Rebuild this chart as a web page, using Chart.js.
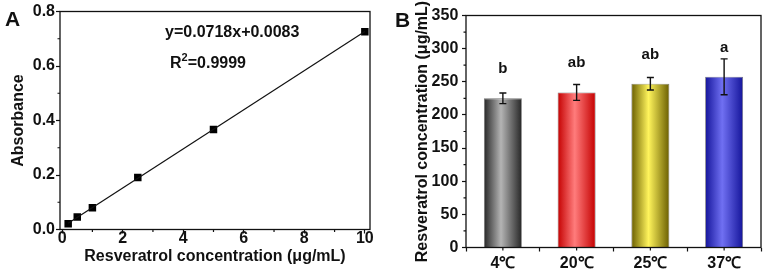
<!DOCTYPE html>
<html>
<head>
<meta charset="utf-8">
<script src="https://cdn.jsdelivr.net/npm/chart.js@4.4.0/dist/chart.umd.min.js"></script>
<style>
  html, body { margin: 0; padding: 0; background: #fff; }
  #wrap { position: relative; width: 776px; height: 272px; overflow: hidden; }
  .panel { position: absolute; top: 0; width: 388px; height: 272px; }
  #pa { left: 0; }
  #pb { left: 388px; }
</style>
</head>
<body>
<div id="wrap">
  <div class="panel" id="pa"><canvas id="chartA" width="388" height="272"></canvas></div>
  <div class="panel" id="pb"><canvas id="chartB" width="388" height="272"></canvas></div>
</div>
<script>
// panel A - standard curve
const concX = [0.2, 0.5, 1, 2.5, 5, 10];
const absY = [0.021, 0.046, 0.080, 0.191, 0.367, 0.726];
const fitX = [0.2, 10];
const fitY = [0.0227, 0.7263];
const xTicksA = [0, 2, 4, 6, 8, 10];
const xMinorA = [1, 3, 5, 7, 9];
const yTicksA = [0, 0.2, 0.4, 0.6, 0.8];
const yMinorA = [0.1, 0.3, 0.5, 0.7];
const fitText = "y=0.0718x+0.0083";
const r2Value = "=0.9999";

// panel B - temperature
const temps = ["4℃", "20℃", "25℃", "37℃"];
const resv = [225, 234, 247, 257.5];
const resvErr = [8, 12, 9.5, 27];
const sigLetters = ["b", "ab", "ab", "a"];
const yTicksB = [0, 50, 100, 150, 200, 250, 300, 350];
const yMinorB = [25, 75, 125, 175, 225, 275, 325];

const INK = "#111";
const barShades = [
  ["#262626", "#b4b4b4"],
  ["#c40000", "#ff7c7c"],
  ["#6a5e00", "#fff45c"],
  ["#14149a", "#7070f2"]
];

Chart.defaults.font.family = "'Liberation Sans', Arial, sans-serif";
Chart.defaults.font.size = 16;
Chart.defaults.font.weight = "bold";
Chart.defaults.color = INK;

function tickLines(ctx, scale, values, len, horizontal) {
  ctx.save();
  ctx.strokeStyle = INK;
  ctx.lineWidth = 1.2;
  ctx.beginPath();
  values.forEach(v => {
    const p = scale.getPixelForValue(v);
    if (horizontal) {
      ctx.moveTo(p, scale.top);
      ctx.lineTo(p, scale.top + len);
    } else {
      ctx.moveTo(scale.right, p);
      ctx.lineTo(scale.right - len, p);
    }
  });
  ctx.stroke();
  ctx.restore();
}

function frame(chart) {
  const { ctx, chartArea: a } = chart;
  ctx.save();
  ctx.strokeStyle = INK;
  ctx.lineWidth = 1.3;
  ctx.strokeRect(a.left, a.top, a.right - a.left, a.bottom - a.top);
  ctx.restore();
}

const gridOpts = { display: true, drawOnChartArea: false, drawTicks: true, tickLength: 4, color: INK, tickWidth: 1.2 };

// ---------- chart A ----------
new Chart(document.getElementById("chartA"), {
  type: "scatter",
  data: {
    datasets: [
      {
        data: fitX.map((x, i) => ({ x, y: fitY[i] })),
        showLine: true, pointRadius: 0, borderColor: INK, borderWidth: 1.2
      },
      {
        data: concX.map((x, i) => ({ x, y: absY[i] })),
        pointStyle: "rect", pointRadius: 5.3, backgroundColor: "#000", borderWidth: 0
      }
    ]
  },
  options: {
    responsive: false,
    animation: false,
    devicePixelRatio: 1,
    layout: { padding: { left: 0, top: 11.5, right: 18, bottom: 0 } },
    plugins: { legend: { display: false }, tooltip: { enabled: false } },
    scales: {
      x: {
        type: "linear", min: -0.07, max: 10.17,
        afterBuildTicks: s => { s.ticks = xTicksA.map(v => ({ value: v })); },
        afterFit: s => { s.height = 42.5; },
        grid: gridOpts,
        border: { display: false },
        ticks: { padding: -5, maxRotation: 0, callback: v => String(v) },
        title: { display: true, text: "Resveratrol concentration (μg/mL)", padding: { top: 0, bottom: 5.4 } }
      },
      y: {
        min: 0, max: 0.8,
        afterBuildTicks: s => { s.ticks = yTicksA.map(v => ({ value: v })); },
        afterFit: s => { s.width = 60; },
        grid: gridOpts,
        border: { display: false },
        ticks: { padding: 1, callback: v => v.toFixed(1) },
        title: { display: true, text: "Absorbance", padding: { top: 8.9, bottom: 0 } }
      }
    }
  },
  plugins: [{
    id: "decorA",
    afterDraw(chart) {
      const { ctx, scales: { x, y } } = chart;
      frame(chart);
      tickLines(ctx, x, xMinorA, 2.5, true);
      tickLines(ctx, y, yMinorA, 2.5, false);
      ctx.save();
      ctx.fillStyle = INK;
      ctx.textBaseline = "alphabetic";
      ctx.textAlign = "left";
      ctx.font = "bold 16px 'Liberation Sans', Arial, sans-serif";
      const tx = x.getPixelForValue(3.4);
      const ty = y.getPixelForValue(0.706);
      ctx.fillText(fitText, tx, ty);
      const rx = tx + 5, ry = ty + 31;
      ctx.fillText("R", rx, ry);
      const rw = ctx.measureText("R").width;
      ctx.font = "bold 11px 'Liberation Sans', Arial, sans-serif";
      ctx.fillText("2", rx + rw, ry - 7);
      const sw = ctx.measureText("2").width;
      ctx.font = "bold 16px 'Liberation Sans', Arial, sans-serif";
      ctx.fillText(r2Value, rx + rw + sw, ry);
      ctx.font = "bold 21px 'Liberation Sans', Arial, sans-serif";
      ctx.fillText("A", 5, 26);
      ctx.restore();
    }
  }]
});

// ---------- chart B ----------
new Chart(document.getElementById("chartB"), {
  type: "bar",
  data: {
    labels: temps,
    datasets: [{
      data: resv,
      backgroundColor: "#888",
      borderColor: "rgba(0,0,0,0.55)",
      borderWidth: 0.8,
      categoryPercentage: 1,
      barPercentage: 0.515
    }]
  },
  options: {
    responsive: false,
    animation: false,
    devicePixelRatio: 1,
    layout: { padding: { left: 0, top: 15.5, right: 15, bottom: 0 } },
    plugins: { legend: { display: false }, tooltip: { enabled: false } },
    scales: {
      x: {
        afterFit: s => { s.height = 24.5; },
        grid: Object.assign({}, gridOpts, { offset: true }),
        border: { display: false },
        ticks: { padding: 2.4, maxRotation: 0 }
      },
      y: {
        min: 0, max: 350,
        afterBuildTicks: s => { s.ticks = yTicksB.map(v => ({ value: v })); },
        afterFit: s => { s.width = 78; },
        grid: gridOpts,
        border: { display: false },
        ticks: { padding: 3.7 },
        title: { display: true, text: "Resveratrol concentration (μg/mL)", padding: { top: 25.4, bottom: 0 } }
      }
    }
  },
  plugins: [{
    id: "decorB",
    beforeDatasetsDraw(chart) {
      const { ctx } = chart;
      chart.getDatasetMeta(0).data.forEach((bar, i) => {
        const g = ctx.createLinearGradient(bar.x - bar.width / 2, 0, bar.x + bar.width / 2, 0);
        const [edge, mid] = barShades[i];
        g.addColorStop(0, edge);
        g.addColorStop(0.45, mid);
        g.addColorStop(1, edge);
        // each bar gets its own options copy (resolved options are shared)
        bar.options = Object.assign({}, bar.options, { backgroundColor: g });
      });
    },
    afterDraw(chart) {
      const { ctx, scales: { x, y } } = chart;
      frame(chart);
      tickLines(ctx, y, yMinorB, 2.5, false);
      tickLines(ctx, x, temps.map((_, i) => i), 3, true);
      ctx.save();
      ctx.strokeStyle = INK;
      ctx.lineWidth = 1.4;
      chart.getDatasetMeta(0).data.forEach((bar, i) => {
        const top = y.getPixelForValue(resv[i] + resvErr[i]);
        const bot = y.getPixelForValue(resv[i] - resvErr[i]);
        ctx.beginPath();
        ctx.moveTo(bar.x, top); ctx.lineTo(bar.x, bot);
        ctx.moveTo(bar.x - 3.5, top); ctx.lineTo(bar.x + 3.5, top);
        ctx.moveTo(bar.x - 3.5, bot); ctx.lineTo(bar.x + 3.5, bot);
        ctx.stroke();
      });
      ctx.fillStyle = INK;
      ctx.textAlign = "center";
      ctx.textBaseline = "alphabetic";
      ctx.font = "bold 15px 'Liberation Sans', Arial, sans-serif";
      chart.getDatasetMeta(0).data.forEach((bar, i) => {
        ctx.fillText(sigLetters[i], bar.x, bar.y - 25);
      });
      ctx.textAlign = "left";
      ctx.font = "bold 21px 'Liberation Sans', Arial, sans-serif";
      ctx.fillText("B", 7, 27);
      ctx.restore();
    }
  }]
});
</script>
</body>
</html>
